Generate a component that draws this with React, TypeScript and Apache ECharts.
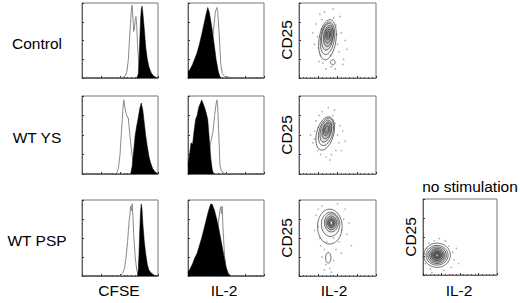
import React, { useEffect, useRef } from "react";
import * as echarts from "echarts";

// ---- labels ----
const rowLabels = ["Control", "WT YS", "WT PSP"];
const bottomLabels = ["CFSE", "IL-2", "IL-2", "IL-2"];
const yLabel = "CD25";
const noStimLabel = "no stimulation";

// ---- CFSE histograms (open = gray outline, fill = black) ----
const cfseOpen1 = [[0,0],[52,0],[56,2],[59,8],[61,25],[63,60],[65,92],[66,97],[67,80],[68,62],[69,65],[70,78],[71,82],[72,70],[73,45],[75,15],[77,3],[80,0],[100,0]];
const cfseFill1 = [[0,0],[72,0],[74,5],[75,20],[76,50],[77,78],[78,92],[79,96],[80,88],[82,65],[84,40],[86,25],[88,15],[91,7],[94,3],[97,1],[100,0]];
const cfseOpen2 = [[0,0],[44,0],[46,2],[48,8],[50,25],[52,55],[54,85],[55,95],[56,88],[58,78],[60,72],[61,72],[62,60],[64,40],[66,24],[68,10],[70,3],[73,0],[100,0]];
const cfseFill2 = [[0,0],[64,0],[66,10],[68,30],[70,50],[72,62],[74,72],[76,84],[78,91],[80,82],[82,65],[84,48],[86,35],[88,23],[90,15],[93,7],[96,3],[100,0]];
const cfseOpen3 = [[0,0],[50,0],[53,3],[56,10],[58,25],[60,45],[61,60],[62,72],[63,80],[64,92],[65,86],[66,95],[67,80],[68,55],[70,25],[72,8],[74,2],[77,0],[100,0]];
const cfseFill3 = [[0,0],[73,0],[74,8],[75,30],[76,60],[77,85],[78,95],[79,88],[80,70],[82,45],[84,28],[86,15],[88,8],[91,4],[95,1],[100,0]];

// ---- IL-2 histograms ----
const il2Open1 = [[0,0],[22,2],[26,8],[29,25],[32,50],[34,68],[36,88],[38,94],[39,90],[41,60],[43,20],[45,6],[48,2],[55,1],[60,0],[100,0]];
const il2Fill1 = [[0,8],[3,12],[6,18],[9,26],[12,34],[15,45],[18,58],[21,72],[24,86],[26,94],[28,88],[31,70],[34,48],[37,25],[40,8],[42,2],[44,0],[100,0]];
const il2Open2 = [[0,0],[24,0],[27,10],[29,37],[31,45],[33,55],[35,75],[37,90],[38,95],[39,88],[41,40],[42,12],[44,4],[48,1],[55,0],[100,0]];
const il2Fill2 = [[0,12],[2,25],[4,40],[6,38],[8,55],[10,70],[12,75],[14,85],[16,90],[18,95],[20,90],[22,85],[24,78],[26,70],[28,45],[30,20],[32,5],[34,0],[100,0]];
const il2Open3 = [[0,0],[35,0],[38,40],[40,70],[42,86],[43,91],[44,82],[45,92],[46,65],[48,28],[50,10],[53,3],[57,0],[100,0]];
const il2Fill3 = [[0,5],[3,10],[6,16],[9,24],[12,30],[15,40],[18,50],[21,62],[24,74],[27,86],[30,95],[32,94],[35,86],[38,74],[41,60],[44,44],[47,28],[50,12],[53,3],[56,0],[100,0]];

// ---- contour levels: [cx, cy, rx, ry, rotationDeg, fillAlpha (-1 = white)] ----
const contours1 = [[37,51,11,27,-8,0],[37,53,9,22,-8,0.05],[37,55,7.5,18,-8,0.12],[38,56,6,14,-8,0.15],[38,57,4.5,10.5,-8,0.15],[38,58,3,7,-8,0.15],[38,58,1.8,4,-8,0.2],[44,21,3,3.5,0,0]];
const contours2 = [[34,52,11,22,-15,0],[35,54,9,18,-15,0.05],[35,55,7,14.5,-15,0.12],[36,56,5.5,11,-15,0.15],[36,57,4,8,-15,0.15],[36,57,2.5,5,-15,0.2]];
const contours3 = [[40,65,16,23,0,0],[41,68,12,16,0,0.05],[42,70,9,12,0,0.12],[42,70,7,9,0,0.2],[42,70,5,6.5,0,0.25],[42,70,3.5,4.5,0,0.3],[42,70,1.5,2,0,-1],[38,24,3.5,7,0,0]];
const contours4 = [[19,26,18,16,0,0],[19,26,15,13,0,0.1],[19,26,12.5,11,0,0.15],[19,26,10,9,0,0.2],[19,26,8,7,0,0.25],[19,26,6,5,0,0.3],[19,26,4,3.5,0,0.3],[19,26,1.5,1.5,0,-1]];

// ---- scattered events outside contours ----
const dots1 = [[18,60],[22,72],[25,40],[27,85],[28,30],[30,78],[31,20],[33,88],[45,80],[48,70],[50,45],[52,35],[55,60],[58,25],[60,50],[24,55],[42,15],[47,12],[35,12],[53,82],[20,45],[62,38],[29,65],[49,58],[41,30],[57,18],[26,22],[44,92]];
const dots2 = [[18,40],[20,55],[22,68],[24,30],[26,75],[28,25],[30,80],[44,75],[47,65],[50,50],[52,40],[55,30],[48,30],[42,25],[35,22],[20,45],[57,55],[25,60],[46,82],[38,85],[15,50],[53,62],[40,18],[60,42]];
const dots3 = [[22,80],[25,65],[27,50],[30,92],[28,40],[33,35],[35,15],[40,10],[45,20],[48,35],[52,45],[55,60],[58,75],[60,88],[62,55],[65,70],[50,95],[25,88],[30,25],[45,50],[36,45],[68,40],[20,60],[55,30],[42,5],[33,8]];
const dots4 = [[3,15],[5,35],[8,42],[10,8],[30,45],[35,38],[40,30],[42,20],[38,10],[28,6],[15,45],[22,48],[45,35],[2,28],[48,15],[12,3]];

const cfseOpen = [cfseOpen1, cfseOpen2, cfseOpen3];
const cfseFill = [cfseFill1, cfseFill2, cfseFill3];
const il2Open = [il2Open1, il2Open2, il2Open3];
const il2Fill = [il2Fill1, il2Fill2, il2Fill3];
const contours = [contours1, contours2, contours3, contours4];
const dots = [dots1, dots2, dots3, dots4];

const FONT = "'Liberation Sans', Arial, sans-serif";

export default function App() {
  const ref = useRef<HTMLDivElement>(null);
  useEffect(() => {
    document.body.style.margin = "0";
    const chart = echarts.init(ref.current!, null, { renderer: "svg" });

    const rowTop = [3, 96, 200];
    const rowH = [75, 78, 76];
    const colLeft = [82, 188, 299];
    const colW = [76, 76, 77];

    const grids: any[] = [];
    for (let r = 0; r < 3; r++)
      for (let c = 0; c < 3; c++)
        grids.push({ left: colLeft[c], top: rowTop[r], width: colW[c], height: rowH[r] });
    grids.push({ left: 423, top: 199, width: 74, height: 76 });
    grids.forEach((g) => Object.assign(g, { show: true, borderColor: "#777", borderWidth: 1, backgroundColor: "#fff" }));

    const axis = (i: number) => ({
      type: "value",
      gridIndex: i,
      min: 0,
      max: 100,
      interval: 25,
      axisLabel: { show: false },
      axisLine: { show: true, lineStyle: { color: "#666", width: 1 } },
      axisTick: { show: true, inside: true, length: 2, lineStyle: { color: "#333" } },
      minorTick: { show: true, splitNumber: 5, length: 1, lineStyle: { color: "#555" } },
      splitLine: { show: false },
    });

    const series: any[] = [];
    for (let r = 0; r < 3; r++) {
      const hists = [
        [cfseOpen[r], cfseFill[r]],
        [il2Open[r], il2Fill[r]],
      ];
      hists.forEach(([open, fill], c) => {
        const gi = r * 3 + c;
        series.push({
          type: "line", xAxisIndex: gi, yAxisIndex: gi, data: open, symbol: "none",
          lineStyle: { color: "#8a8a8a", width: 1 }, z: 2,
        });
        series.push({
          type: "line", xAxisIndex: gi, yAxisIndex: gi, data: fill, symbol: "none",
          lineStyle: { color: "#000", width: 0.5 }, areaStyle: { color: "#000", opacity: 1 }, z: 3,
        });
      });
    }

    const contourGrid = [2, 5, 8, 9];
    contourGrid.forEach((gi, k) => {
      series.push({
        type: "scatter", xAxisIndex: gi, yAxisIndex: gi, data: dots[k], symbolSize: 1.6,
        itemStyle: { color: "#9a9a9a" }, z: 1,
      });
      series.push({
        type: "custom", coordinateSystem: "cartesian2d", xAxisIndex: gi, yAxisIndex: gi,
        data: contours[k], z: 2,
        renderItem: (params: any, api: any) => {
          const c = api.coord([api.value(0), api.value(1)]);
          const s = api.size([api.value(2), api.value(3)]);
          const a = api.value(5);
          const fill = a < 0 ? "#fff" : a === 0 ? "rgba(0,0,0,0)" : `rgba(50,50,50,${a})`;
          return {
            type: "ellipse",
            x: c[0], y: c[1],
            rotation: (api.value(4) * Math.PI) / 180,
            shape: { cx: 0, cy: 0, rx: s[0], ry: s[1] },
            style: { fill, stroke: "#3a3a3a", lineWidth: 0.7 },
          };
        },
      });
    });

    const txt = (text: string, x: number, y: number, rot = 0) => ({
      type: "text", x, y, rotation: rot,
      style: { text, fill: "#000", font: `15.5px ${FONT}`, align: "center", verticalAlign: "middle" },
    });
    const graphic: any[] = [];
    const rowLabelY = [43, 137, 240];
    rowLabels.forEach((t, i) => graphic.push(txt(t, 37, rowLabelY[i])));
    const cdY = [40, 135, 238];
    cdY.forEach((y) => graphic.push(txt(yLabel, 286, y, Math.PI / 2)));
    graphic.push(txt(yLabel, 410, 237, Math.PI / 2));
    const bx = [119, 224, 334, 459];
    bottomLabels.forEach((t, i) => graphic.push(txt(t, bx[i], 290)));
    graphic.push(txt(noStimLabel, 470, 186));

    chart.setOption({
      animation: false,
      backgroundColor: "#fff",
      grid: grids,
      xAxis: grids.map((_, i) => axis(i)),
      yAxis: grids.map((_, i) => axis(i)),
      series,
      graphic,
    });
    return () => chart.dispose();
  }, []);
  return <div ref={ref} style={{ position: "absolute", left: 0, top: 0, width: 520, height: 303 }} />;
}
